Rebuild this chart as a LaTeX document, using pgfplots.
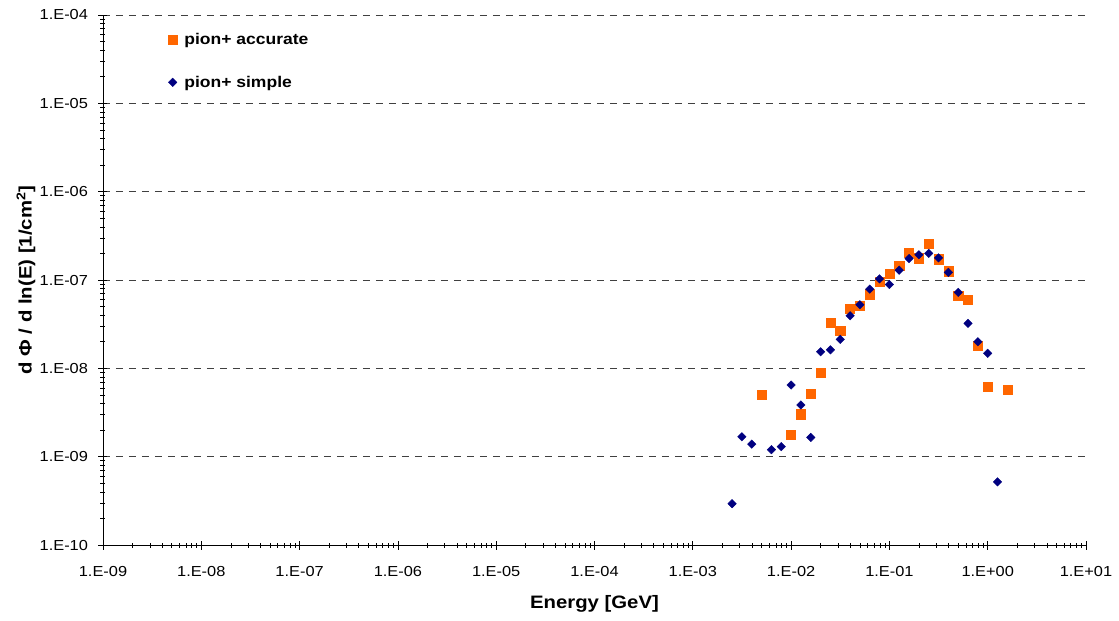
\documentclass[border=0pt]{standalone}
\usepackage{pgfplots}
\pgfplotsset{compat=1.18}
\usepackage{fontspec}
\setmainfont[FakeStretch=1.13]{Liberation Sans}
\definecolor{accorange}{HTML}{FF6600}
\definecolor{simpnavy}{HTML}{000080}
\begin{document}
\begin{tikzpicture}
\path[use as bounding box] (-103pt,-76pt) rectangle (1016pt,545pt);
\begin{axis}[
  scale only axis,
  width=983pt, height=530pt,
  xmode=log, ymode=log,
  xmin=1e-9, xmax=1e1,
  ymin=1e-10, ymax=1e-4,
  axis x line=bottom, axis y line=left,
  axis line style={-, black, line width=0.8pt},
  xtick={1e-9,1e-8,1e-7,1e-6,1e-5,1e-4,1e-3,1e-2,1e-1,1e0,1e1},
  xticklabels={1.E-09,1.E-08,1.E-07,1.E-06,1.E-05,1.E-04,1.E-03,1.E-02,1.E-01,1.E+00,1.E+01},
  ytick={1e-10,1e-9,1e-8,1e-7,1e-6,1e-5,1e-4},
  yticklabels={1.E-10,1.E-09,1.E-08,1.E-07,1.E-06,1.E-05,1.E-04},
  minor xtick={2e-9,3e-9,4e-9,5e-9,6e-9,7e-9,8e-9,9e-9,
    2e-8,3e-8,4e-8,5e-8,6e-8,7e-8,8e-8,9e-8,
    2e-7,3e-7,4e-7,5e-7,6e-7,7e-7,8e-7,9e-7,
    2e-6,3e-6,4e-6,5e-6,6e-6,7e-6,8e-6,9e-6,
    2e-5,3e-5,4e-5,5e-5,6e-5,7e-5,8e-5,9e-5,
    2e-4,3e-4,4e-4,5e-4,6e-4,7e-4,8e-4,9e-4,
    2e-3,3e-3,4e-3,5e-3,6e-3,7e-3,8e-3,9e-3,
    2e-2,3e-2,4e-2,5e-2,6e-2,7e-2,8e-2,9e-2,
    2e-1,3e-1,4e-1,5e-1,6e-1,7e-1,8e-1,9e-1,
    2,3,4,5,6,7,8,9},
  minor ytick={2e-10,3e-10,4e-10,5e-10,6e-10,7e-10,8e-10,9e-10,
    2e-9,3e-9,4e-9,5e-9,6e-9,7e-9,8e-9,9e-9,
    2e-8,3e-8,4e-8,5e-8,6e-8,7e-8,8e-8,9e-8,
    2e-7,3e-7,4e-7,5e-7,6e-7,7e-7,8e-7,9e-7,
    2e-6,3e-6,4e-6,5e-6,6e-6,7e-6,8e-6,9e-6,
    2e-5,3e-5,4e-5,5e-5,6e-5,7e-5,8e-5,9e-5},
  tick align=center,
  major tick length=9pt,
  minor tick length=5pt,
  tick style={black, line width=0.6pt},
  ymajorgrids,
  major grid style={dash pattern=on 7pt off 6pt, black!75, line width=0.7pt},
  ticklabel style={font=\fontsize{14.5}{17}\selectfont},
  xticklabel style={yshift=-13pt},
  yticklabel style={xshift=-7pt},
  xlabel={\textbf{Energy [GeV]}},
  ylabel={\textbf{d Φ / d ln(E) [1/cm\textsuperscript{2}]}},
  xlabel style={font=\fontsize{18}{21}\selectfont, at={(axis description cs:0.5,0)}, anchor=center, yshift=-59pt},
  ylabel style={font=\fontsize{18}{21}\selectfont, at={(axis description cs:0,0.5)}, anchor=center, yshift=77pt},
  legend style={at={(0.063,0.9736)}, anchor=north west, draw=none, fill=none,
    font=\fontsize{15.5}{18}\bfseries\selectfont, row sep=26pt},
  legend cell align=left,
]
\addplot[only marks, mark=square*, mark size=4.6pt, color=accorange] coordinates {
(5.012e-3,4.99e-9)
(1.0e-2,1.79e-9)
(1.259e-2,3.02e-9)
(1.585e-2,5.2e-9)
(1.995e-2,8.9e-9)
(2.512e-2,3.28e-8)
(3.162e-2,2.69e-8)
(3.981e-2,4.72e-8)
(5.012e-2,5.07e-8)
(6.310e-2,6.92e-8)
(7.943e-2,9.55e-8)
(0.1,1.19e-7)
(0.1259,1.45e-7)
(0.1585,2.03e-7)
(0.1995,1.77e-7)
(0.2512,2.55e-7)
(0.3162,1.72e-7)
(0.3981,1.26e-7)
(0.5012,6.62e-8)
(0.6310,6.03e-8)
(0.7943,1.79e-8)
(1.0,6.25e-9)
(1.585,5.73e-9)
};
\addlegendentry{\hspace{5pt}pion+ accurate}
\addplot[only marks, mark=square*, mark size=3pt, mark options={rotate=45}, color=simpnavy] coordinates {
(2.512e-3,2.94e-10)
(3.162e-3,1.68e-9)
(3.981e-3,1.39e-9)
(6.310e-3,1.2e-9)
(7.943e-3,1.30e-9)
(1.0e-2,6.47e-9)
(1.259e-2,3.85e-9)
(1.585e-2,1.65e-9)
(1.995e-2,1.54e-8)
(2.512e-2,1.62e-8)
(3.162e-2,2.13e-8)
(3.981e-2,3.94e-8)
(5.012e-2,5.25e-8)
(6.310e-2,7.89e-8)
(7.943e-2,1.03e-7)
(0.1,8.9e-8)
(0.1259,1.29e-7)
(0.1585,1.75e-7)
(0.1995,1.93e-7)
(0.2512,2.0e-7)
(0.3162,1.78e-7)
(0.3981,1.22e-7)
(0.5012,7.24e-8)
(0.6310,3.23e-8)
(0.7943,2.0e-8)
(1.0,1.48e-8)
(1.259,5.18e-10)
};
\addlegendentry{\hspace{5pt}pion+ simple}
\end{axis}
\end{tikzpicture}
\end{document}
